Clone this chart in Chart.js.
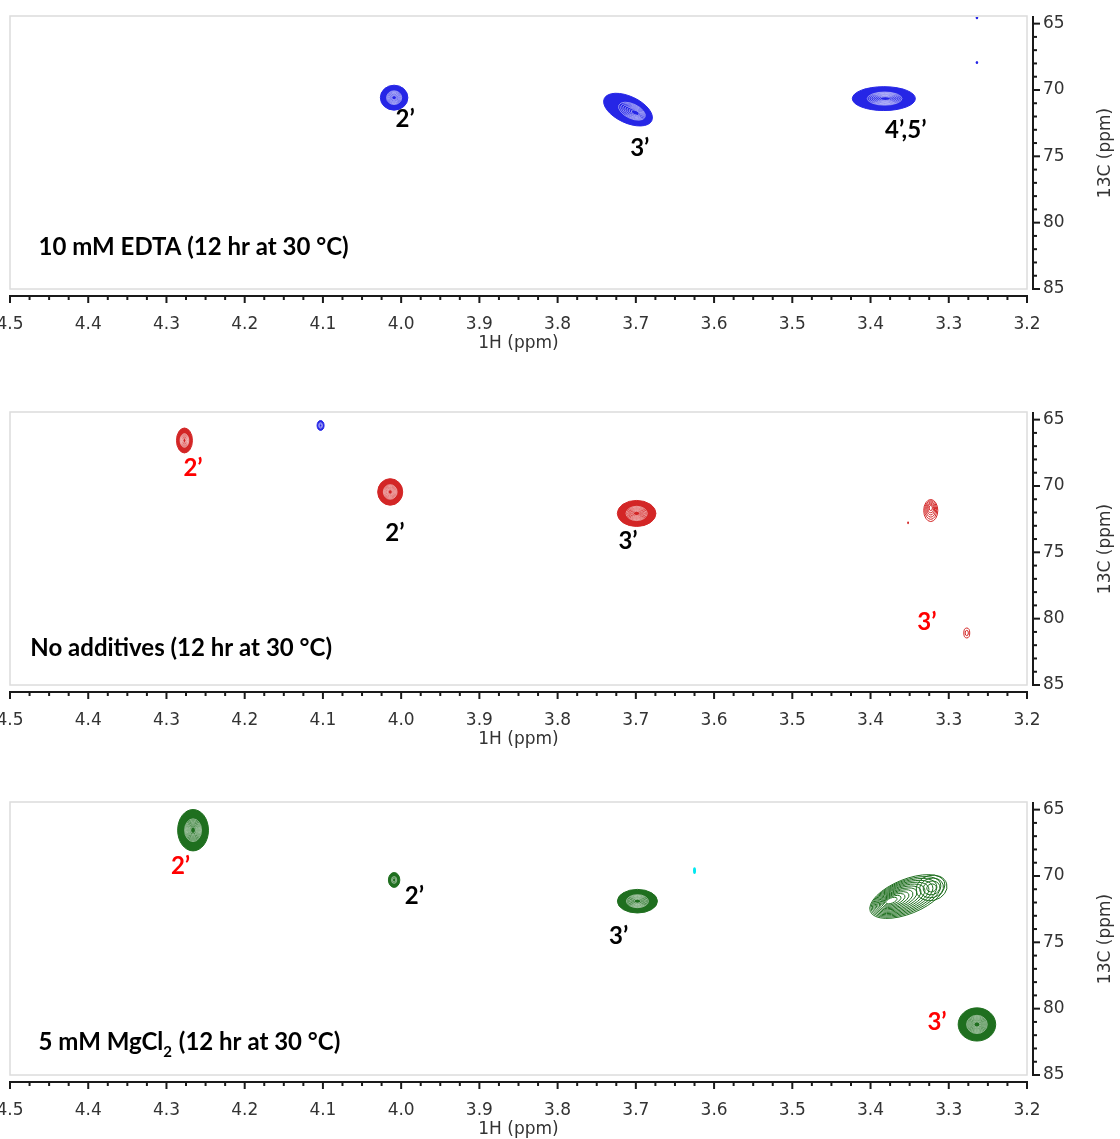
<!DOCTYPE html>
<html>
<head>
<meta charset="utf-8">
<title>HSQC</title>
<script src="https://cdn.jsdelivr.net/npm/chart.js@4.4.1/dist/chart.umd.min.js"></script>
<style>
  body { margin: 0; background: #fff; }
  #wrap { position: relative; width: 1120px; height: 1139px; overflow: hidden; }
  canvas { position: absolute; left: 0; }
</style>
</head>
<body>
<div id="wrap">
  <canvas id="edtaChart" width="1120" height="352" style="top:0px"></canvas>
  <canvas id="noneChart" width="1120" height="352" style="top:396px"></canvas>
  <canvas id="mgChart" width="1120" height="352" style="top:786px"></canvas>
</div>
<script>
// Ejes
const xTicks = [4.5, 4.4, 4.3, 4.2, 4.1, 4.0, 3.9, 3.8, 3.7, 3.6, 3.5, 3.4, 3.3, 3.2];
const yTicks = [65, 70, 75, 80, 85];

// Picos: [1H, 13C, semiancho 1H, semiancho 13C, (centro 1H, centro 13C)]
const edtaPeaks = [
  [4.009, 70.58, 0.0176, 0.94],
  [3.700, 71.72, 0.0335, 1.00, 3.710, 71.48],
  [3.381, 70.65, 0.0403, 0.90, 3.383, 70.65],
  [3.264, 64.55, 0.0016, 0.12],
  [3.264, 67.93, 0.0016, 0.12]
];
const edtaLabels = ['2’', '3’', '4’,5’'];
const edtaLabelPos = [[3.995, 72.23], [3.695, 74.37], [3.355, 73.0]];
const edtaLabelNew = [false, false, false];
const edtaTitle = ['10 mM EDTA (12 hr at 30 °C)'];
const edtaTitlePos = [4.4635, 81.88];

const nonePeaks = [
  [4.277, 66.57, 0.0102, 0.94],
  [4.103, 65.44, 0.0045, 0.375],
  [4.014, 70.45, 0.0160, 1.00],
  [3.699, 72.07, 0.0247, 0.98],
  [3.323, 71.62, 0.0090, 0.83, 3.323, 71.85],
  [3.352, 72.78, 0.0012, 0.10],
  [3.277, 81.08, 0.0038, 0.375]
];
const noneLabels = ['2’', '2’', '3’', '3’'];
const noneLabelPos = [[4.266, 68.69], [4.008, 73.53], [3.710, 74.2], [3.328, 80.28]];
const noneLabelNew = [true, false, false, true];
const noneTitle = ['No additives (12 hr at 30 °C)'];
const noneTitlePos = [4.474, 82.21];

const mgPeaks = [
  [4.266, 66.55, 0.0197, 1.56],
  [4.009, 70.30, 0.0073, 0.56],
  [3.625, 69.60, 0.0019, 0.25],
  [3.698, 71.90, 0.0256, 0.89],
  [3.375, 71.88, 0.0510, 1.30, 3.353, 71.55],
  [3.322, 70.90, 0.0200, 0.95],
  [3.264, 81.19, 0.0240, 1.25]
];
const mgLabels = ['2’', '2’', '3’', '3’'];
const mgLabelPos = [[4.282, 69.3], [3.983, 71.55], [3.722, 74.56], [3.315, 81.04]];
const mgLabelNew = [true, false, false, true];
const mgTitle = ['5 mM MgCl', '2', ' (12 hr at 30 °C)'];
const mgTitlePos = [4.4635, 82.54];

// Estilos
const BLUE = '#2626e6', RED = '#d32626', GREEN = '#1f6f1f', CYAN = '#00e8f0';
const tickFont = { family: 'DejaVu Sans', size: 17 };
const labelFont = 'bold 24px Lato';

const panels = {
  edtaChart: {
    peaks: edtaPeaks, colors: [BLUE, BLUE, BLUE, BLUE, BLUE],
    modes: ['fill', 'fill', 'fill', 'dot', 'dot'], tilts: [0, 25, 0, 0, 0], levels: [14, 14, 16, 1, 1],
    labels: edtaLabels, labelPos: edtaLabelPos, labelNew: edtaLabelNew, title: edtaTitle, titlePos: edtaTitlePos
  },
  noneChart: {
    peaks: nonePeaks, colors: [RED, BLUE, RED, RED, RED, RED, RED],
    modes: ['fill', 'fill', 'fill', 'fill', 'line', 'dot', 'line'], tilts: [0, 0, 0, 0, 0, 0, 0], levels: [12, 4, 14, 14, 6, 1, 2],
    labels: noneLabels, labelPos: noneLabelPos, labelNew: noneLabelNew, title: noneTitle, titlePos: noneTitlePos
  },
  mgChart: {
    peaks: mgPeaks, colors: [GREEN, GREEN, CYAN, GREEN, GREEN, GREEN, GREEN],
    modes: ['fill', 'fill', 'dot', 'fill', 'line', 'line', 'fill'], tilts: [0, 0, 0, 0, -22, -15, 0], levels: [16, 5, 1, 14, 13, 4, 16],
    labels: mgLabels, labelPos: mgLabelPos, labelNew: mgLabelNew, title: mgTitle, titlePos: mgTitlePos
  }
};

// Dibuja un pico como curvas de nivel elípticas
function drawPeak(ctx, core, cen, rx, ry, rot, color, mode, n) {
  const ell = (cx, cy, a, b) => { ctx.beginPath(); ctx.ellipse(cx, cy, Math.max(a, 0.6), Math.max(b, 0.6), rot, 0, Math.PI * 2); };
  if (mode === 'dot') {
    ctx.fillStyle = color;
    ell(cen.x, cen.y, rx, ry);
    ctx.fill();
    return;
  }
  if (mode === 'fill') {
    ctx.fillStyle = color;
    ell(cen.x, cen.y, rx, ry);
    ctx.fill();
    ctx.strokeStyle = color;
    ctx.lineWidth = 1;
    ctx.stroke();
    ctx.strokeStyle = 'rgba(255,255,255,0.7)';
    ctx.lineWidth = 0.7;
    for (let i = Math.ceil(n * 0.5); i < n; i++) {
      const t = i / n;
      const s = 1 - 0.9 * t;
      ell(cen.x + (core.x - cen.x) * t, cen.y + (core.y - cen.y) * t, rx * s, ry * s);
      ctx.stroke();
    }
    return;
  }
  ctx.strokeStyle = color;
  ctx.lineWidth = 1;
  for (let i = 0; i < n; i++) {
    const t = i / n;
    const s = 1 - 0.92 * t;
    ell(cen.x + (core.x - cen.x) * t, cen.y + (core.y - cen.y) * t, rx * s, ry * s);
    ctx.stroke();
  }
}

function makeNmrPlugin(panel) {
  return {
    id: 'nmr',
    afterDatasetsDraw(chart) {
      const { ctx, chartArea: a, scales: { x, y } } = chart;
      ctx.save();
      ctx.beginPath();
      ctx.rect(a.left, a.top, a.right - a.left, a.bottom - a.top);
      ctx.clip();
      panel.peaks.forEach((p, i) => {
        const core = { x: x.getPixelForValue(p[0]), y: y.getPixelForValue(p[1]) };
        const cen = p.length > 4 ? { x: x.getPixelForValue(p[4]), y: y.getPixelForValue(p[5]) } : core;
        const rx = Math.abs(x.getPixelForValue(p[0] + p[2]) - core.x);
        const ry = Math.abs(y.getPixelForValue(p[1] + p[3]) - core.y);
        drawPeak(ctx, core, cen, rx, ry, panel.tilts[i] * Math.PI / 180, panel.colors[i], panel.modes[i], panel.levels[i]);
      });
      ctx.restore();

      // Etiquetas de picos
      ctx.save();
      ctx.font = labelFont;
      ctx.textAlign = 'center';
      ctx.textBaseline = 'middle';
      panel.labels.forEach((txt, i) => {
        ctx.fillStyle = panel.labelNew[i] ? '#ff0000' : '#000000';
        ctx.fillText(txt, x.getPixelForValue(panel.labelPos[i][0]), y.getPixelForValue(panel.labelPos[i][1]));
      });
      // Título del panel (con subíndice)
      ctx.fillStyle = '#000000';
      ctx.textAlign = 'left';
      let tx = x.getPixelForValue(panel.titlePos[0]);
      const ty = y.getPixelForValue(panel.titlePos[1]);
      panel.title.forEach((part, i) => {
        const sub = i % 2 === 1;
        ctx.font = sub ? 'bold 15px Lato' : labelFont;
        ctx.fillText(part, tx, sub ? ty + 10 : ty);
        tx += ctx.measureText(part).width + (sub ? 1 : 0);
      });
      ctx.restore();
    },
    afterDraw(chart) {
      const { ctx, chartArea: a, scales: { x, y } } = chart;
      const line = (x1, y1, x2, y2) => { ctx.beginPath(); ctx.moveTo(x1, y1); ctx.lineTo(x2, y2); ctx.stroke(); };
      ctx.save();
      // marco del área
      ctx.strokeStyle = '#dcdcdc';
      ctx.lineWidth = 1.5;
      ctx.strokeRect(a.left, a.top - 1, a.right - a.left, a.bottom - a.top + 1);
      // eje 1H
      ctx.strokeStyle = '#1a1a1a';
      ctx.lineWidth = 2;
      const ay = a.bottom + 7;
      line(a.left - 1, ay, a.right + 1, ay);
      for (let i = 0; i <= 52; i++) {
        const px = x.getPixelForValue(3.2 + i * 0.025);
        line(px, ay, px, ay + (i % 4 === 0 ? 7 : 4));
      }
      // eje 13C
      const ax = a.right + 6;
      line(ax, a.top - 1, ax, y.getPixelForValue(85) + 1);
      for (let v = 65; v <= 85; v++) {
        const py = y.getPixelForValue(v);
        line(ax, py, ax + (v % 5 === 0 ? 7 : 4), py);
      }
      // título del eje 13C
      ctx.fillStyle = '#333333';
      ctx.font = '17px "DejaVu Sans"';
      ctx.textAlign = 'center';
      ctx.textBaseline = 'middle';
      ctx.translate(1106, (a.top + a.bottom) / 2);
      ctx.rotate(-Math.PI / 2);
      ctx.fillText('13C (ppm)', 0, 0);
      ctx.restore();
    }
  };
}

function crearPanel(id) {
  const panel = panels[id];
  return new Chart(document.getElementById(id), {
    type: 'scatter',
    data: {
      datasets: [{ data: panel.peaks.map(p => ({ x: p[0], y: p[1] })), pointRadius: 0 }]
    },
    options: {
      responsive: false,
      animation: false,
      devicePixelRatio: 1,
      layout: { padding: { left: 10, top: 17, right: 0, bottom: 0 } },
      plugins: { legend: { display: false }, tooltip: { enabled: false } },
      scales: {
        x: {
          type: 'linear', position: 'bottom', reverse: true, min: 3.2, max: 4.5,
          afterBuildTicks: s => { s.ticks = xTicks.map(v => ({ value: v })); },
          afterFit: s => { s.height = 63; s.paddingLeft = 0; s.paddingRight = 0; },
          grid: { display: false, drawTicks: false },
          border: { display: false },
          ticks: { font: tickFont, color: '#333333', padding: 25, maxRotation: 0, autoSkip: false,
                   callback: v => Number(v).toFixed(1) },
          title: { display: true, text: '1H (ppm)', font: tickFont, color: '#333333', padding: { top: 0, bottom: -2 } }
        },
        y: {
          type: 'linear', position: 'right', reverse: true, min: 64.5, max: 85,
          afterBuildTicks: s => { s.ticks = yTicks.map(v => ({ value: v })); },
          afterFit: s => { s.width = 93; s.paddingTop = 0; s.paddingBottom = 0; },
          grid: { display: false, drawTicks: false },
          border: { display: false },
          ticks: { font: tickFont, color: '#333333', padding: 16, callback: v => String(v) }
        }
      }
    },
    plugins: [makeNmrPlugin(panel)]
  });
}

crearPanel('edtaChart');
crearPanel('noneChart');
crearPanel('mgChart');
</script>
</body>
</html>
